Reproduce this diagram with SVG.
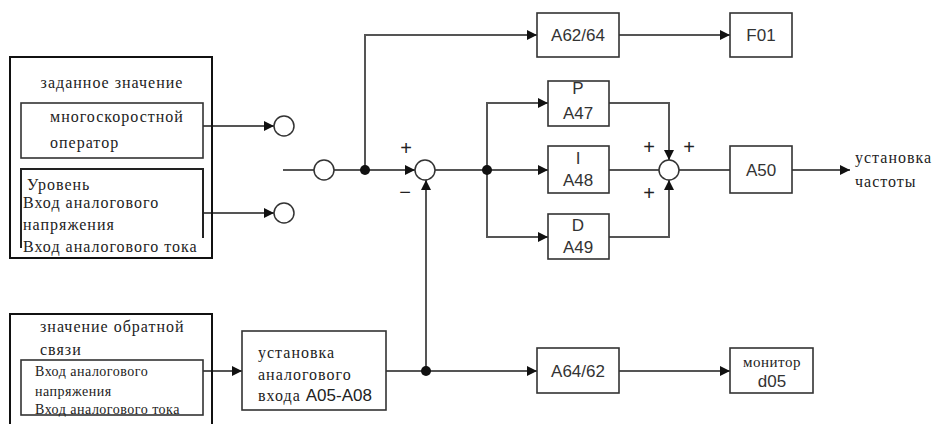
<svg xmlns="http://www.w3.org/2000/svg" width="933" height="424" viewBox="0 0 933 424">
<defs>
<marker id="ah" viewBox="0 0 10 10" refX="10" refY="5" markerWidth="10" markerHeight="10" markerUnits="userSpaceOnUse" orient="auto">
<path d="M0,0 L10,5 L0,10 z" fill="#111"/>
</marker>
<style>
.ln{fill:none;stroke:#555;stroke-width:2}
.ar{fill:none;stroke:#555;stroke-width:2;marker-end:url(#ah)}
.bx{fill:#fff;stroke:#333;stroke-width:1.6}
.ob{fill:none;stroke:#111;stroke-width:2}
.ci{fill:#fff;stroke:#333;stroke-width:1.5}
.dot{fill:#111}
.s{font-family:"Liberation Sans",Arial,sans-serif;font-size:17px;fill:#333}
.r{font-family:"Liberation Serif","Times New Roman",serif;font-size:16px;letter-spacing:1px;fill:#222}
.rs{font-family:"Liberation Serif","Times New Roman",serif;font-size:14px;letter-spacing:0.5px;fill:#222}
.pm{font-family:"Liberation Sans",Arial,sans-serif;font-size:20px;fill:#222}
</style>
</defs>
<rect width="933" height="424" fill="#fff"/>

<g id="connectors">
<line class="ar" x1="203" y1="126" x2="274" y2="126"/>
<line class="ar" x1="203" y1="213" x2="274" y2="213"/>
<line class="ln" x1="283" y1="170" x2="314" y2="170" stroke-width="2.5"/>
<line class="ln" x1="334" y1="170" x2="365" y2="170"/>
<line class="ar" x1="365" y1="170" x2="415" y2="170"/>
<polyline class="ar" points="365,170 365,35 537,35"/>
<line class="ar" x1="619" y1="35" x2="730" y2="35"/>
<line class="ln" x1="435" y1="170" x2="487" y2="170"/>
<line class="ar" x1="487" y1="170" x2="548" y2="170"/>
<polyline class="ar" points="487,170 487,103 548,103"/>
<polyline class="ar" points="487,170 487,237 548,237"/>
<polyline class="ar" points="609,103 669,103 669,160"/>
<polyline class="ar" points="609,237 669,237 669,180"/>
<line class="ln" x1="609" y1="170" x2="659" y2="170"/>
<line class="ln" x1="679" y1="170" x2="730" y2="170"/>
<line class="ar" x1="792" y1="170" x2="850" y2="170"/>
<line class="ar" x1="203" y1="371" x2="242" y2="371"/>
<line class="ln" x1="386" y1="371" x2="426" y2="371"/>
<line class="ar" x1="426" y1="371" x2="426" y2="180"/>
<line class="ar" x1="426" y1="371" x2="537" y2="371"/>
<line class="ar" x1="619" y1="371" x2="730" y2="371"/>
<circle class="dot" cx="365" cy="170" r="5"/>
<circle class="dot" cx="487" cy="170" r="5"/>
<circle class="dot" cx="426" cy="371" r="5"/>
</g>

<g id="setpoint">
<rect class="ob" x="10" y="57" width="202" height="201"/>
<text class="r" x="112" y="88" text-anchor="middle">заданное значение</text>
</g>
<g id="multispeed">
<rect class="bx" x="21" y="103" width="182" height="55" stroke="#222"/>
<text class="r" x="50" y="122">многоскоростной</text>
<text class="r" x="50" y="148">оператор</text>
</g>
<g id="analog-level">
<polyline fill="none" stroke="#222" stroke-width="2" points="21,248 21,169 203,169 203,238"/>
<text class="r" x="27" y="190">Уровень</text>
<text class="r" x="23" y="208">Вход аналогового</text>
<text class="r" x="23" y="230">напряжения</text>
<text class="r" x="23" y="252">Вход аналогового тока</text>
</g>
<g id="c-in1"><circle class="ci" cx="284" cy="126" r="10"/></g>
<g id="c-in2"><circle class="ci" cx="284" cy="213" r="10"/></g>
<g id="c-main"><circle class="ci" cx="324" cy="170" r="10"/></g>
<g id="sum1">
<circle class="ci" cx="425" cy="170" r="10"/>
<text class="pm" x="406" y="155" text-anchor="middle">+</text>
<text class="pm" x="405" y="199" text-anchor="middle">−</text>
</g>
<g id="a62"><rect class="bx" x="537" y="13" width="82" height="44"/><text class="s" x="578" y="41" text-anchor="middle">A62/64</text></g>
<g id="f01"><rect class="bx" x="730" y="13" width="62" height="44"/><text class="s" x="761" y="41" text-anchor="middle">F01</text></g>
<g id="p"><rect class="bx" x="548" y="81" width="61" height="45"/><text class="s" x="578" y="94" text-anchor="middle">P</text><text class="s" x="578" y="119" text-anchor="middle">A47</text></g>
<g id="i"><rect class="bx" x="548" y="146" width="61" height="47"/><text class="s" x="578" y="164" text-anchor="middle">I</text><text class="s" x="578" y="186" text-anchor="middle">A48</text></g>
<g id="d"><rect class="bx" x="548" y="214" width="61" height="45"/><text class="s" x="578" y="231" text-anchor="middle">D</text><text class="s" x="578" y="253" text-anchor="middle">A49</text></g>
<g id="sum2">
<circle class="ci" cx="669" cy="170" r="10"/>
<text class="pm" x="649" y="154" text-anchor="middle">+</text>
<text class="pm" x="689" y="154" text-anchor="middle">+</text>
<text class="pm" x="649" y="200" text-anchor="middle">+</text>
</g>
<g id="a50"><rect class="bx" x="730" y="146" width="62" height="47"/><text class="s" x="761" y="176" text-anchor="middle">A50</text></g>
<g id="output">
<text class="r" x="855" y="163">установка</text>
<text class="r" x="855" y="187">частоты</text>
</g>

<g id="feedback">
<polyline class="ob" points="10,424 10,314 212,314 212,424"/>
<text class="r" x="40" y="332">значение обратной</text>
<text class="r" x="40" y="355">связи</text>
</g>
<g id="fb-inputs">
<rect class="bx" x="21" y="360" width="182" height="55" stroke="#222"/>
<text class="rs" x="35" y="376">Вход аналогового</text>
<text class="rs" x="35" y="396">напряжения</text>
<text class="rs" x="35" y="414">Вход аналогового тока</text>
</g>
<g id="analog-setting">
<rect class="bx" x="242" y="331" width="144" height="79"/>
<text class="r" x="258" y="358">установка</text>
<text class="r" x="258" y="380">аналогового</text>
<text class="r" x="258" y="401">входа <tspan font-family="Liberation Sans, Arial, sans-serif" font-size="17" letter-spacing="0">A05-A08</tspan></text>
</g>
<g id="a64"><rect class="bx" x="537" y="348" width="82" height="45"/><text class="s" x="578" y="377" text-anchor="middle">A64/62</text></g>
<g id="monitor"><rect class="bx" x="730" y="348" width="83" height="45"/><text class="r" x="772" y="367" text-anchor="middle" style="font-size:15px;letter-spacing:0.5px">монитор</text><text class="s" x="772" y="387" text-anchor="middle">d05</text></g>
</svg>
